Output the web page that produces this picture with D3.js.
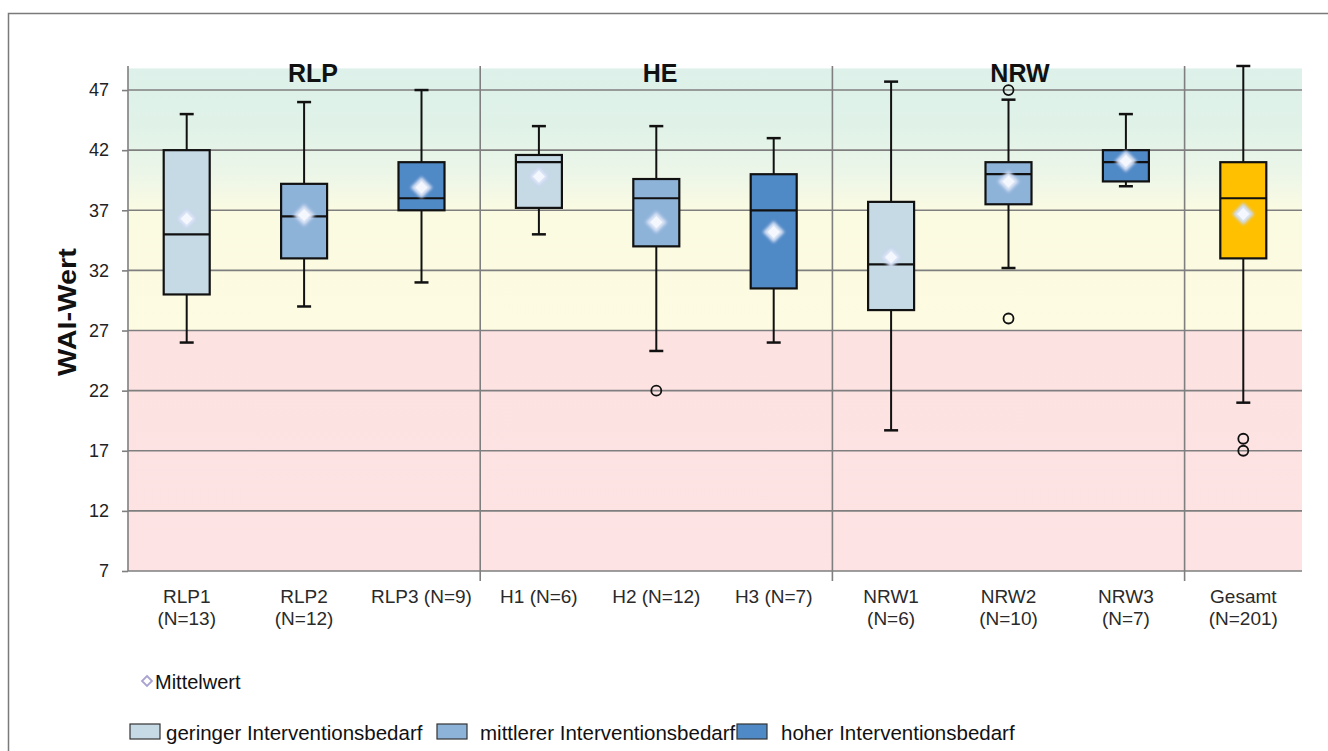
<!DOCTYPE html>
<html lang="de">
<head>
    <meta charset="UTF-8">
    <script src="https://cdn.jsdelivr.net/npm/d3@7"></script>
    <title>WAI-Wert</title>
    <style>
        body { margin: 0; background: #fff; font-family: Arial, "Liberation Sans", sans-serif; }
        svg { display: block; }
    </style>
</head>
<body>
<svg width="1328" height="751"></svg>
<script>
    // Kategorien und Kennwerte
    var categories = ["RLP1", "RLP2", "RLP3", "H1", "H2", "H3", "NRW1", "NRW2", "NRW3", "Gesamt"];
    var xLabels = [["RLP1", "(N=13)"], ["RLP2", "(N=12)"], ["RLP3 (N=9)"], ["H1 (N=6)"], ["H2 (N=12)"],
        ["H3 (N=7)"], ["NRW1", "(N=6)"], ["NRW2", "(N=10)"], ["NRW3", "(N=7)"], ["Gesamt", "(N=201)"]];
    var level = ["gering", "mittel", "hoch", "gering", "mittel", "hoch", "gering", "mittel", "hoch", "gesamt"];
    var whiskerLow = [26, 29, 31, 35, 25.3, 26, 18.7, 32.2, 39, 21];
    var q1 = [30, 33, 37, 37.2, 34, 30.5, 28.7, 37.5, 39.4, 33];
    var median = [35, 36.5, 38, 41, 38, 37, 32.5, 40, 41, 38];
    var q3 = [42, 39.2, 41, 41.6, 39.6, 40, 37.7, 41, 42, 41];
    var whiskerHigh = [45, 46, 47, 44, 44, 43, 47.7, 46.2, 45, 49];
    var means = [36.3, 36.6, 38.9, 39.8, 36, 35.2, 33.1, 39.4, 41.1, 36.7];
    var outliers = [[], [], [], [], [22], [], [], [47, 28], [], [18, 17]];
    var groups = ["RLP", "HE", "NRW"];
    var yTicks = [7, 12, 17, 22, 27, 32, 37, 42, 47];

    var colors = {gering: "#c6dae5", mittel: "#8eb3d9", hoch: "#4f89c6", gesamt: "#ffc000"};

    var svg = d3.select("svg");
    var plot = {left: 128, right: 1302, top: 66, bottom: 571};

    var x = d3.scaleBand().domain(categories).range([plot.left, plot.right]);
    var y = d3.scaleLinear().domain([7, 49]).range([plot.bottom, plot.top]);

    // Rahmen
    svg.append("rect").attr("x", 8.5).attr("y", 13.5).attr("width", 1340).attr("height", 800)
        .attr("fill", "#fff").attr("stroke", "#7a7a7a").attr("stroke-width", 1.5);

    // Hintergrund-Zonen
    var defs = svg.append("defs");
    var grad = defs.append("linearGradient").attr("id", "bg")
        .attr("gradientUnits", "userSpaceOnUse")
        .attr("x1", 0).attr("x2", 0).attr("y1", y(49)).attr("y2", y(7));
    function stop(v, c) {
        grad.append("stop").attr("offset", (y(v) - y(49)) / (y(7) - y(49))).attr("stop-color", c);
    }
    stop(49, "#ddf1ea");
    stop(44, "#e0f2e8");
    stop(40, "#ecf6e8");
    stop(37, "#fbfbe2");
    stop(27, "#fdfbe2");
    stop(27, "#fde2e2");
    stop(7, "#fde3e3");
    svg.append("rect").attr("x", plot.left).attr("y", y(48.8)).attr("width", plot.right - plot.left)
        .attr("height", y(7) - y(48.8)).attr("fill", "url(#bg)");

    // Gitterlinien
    svg.append("g").selectAll("line").data(yTicks).enter().append("line")
        .attr("x1", plot.left).attr("x2", plot.right)
        .attr("y1", function (d) { return y(d); }).attr("y2", function (d) { return y(d); })
        .attr("stroke", "#7f7f7f").attr("stroke-width", 1.6);

    // Trennlinien zwischen Laendern
    var seps = ["H1", "NRW1", "Gesamt"];
    svg.append("g").selectAll("line").data(seps).enter().append("line")
        .attr("x1", function (d) { return x(d); }).attr("x2", function (d) { return x(d); })
        .attr("y1", plot.top).attr("y2", plot.bottom + 10)
        .attr("stroke", "#7f7f7f").attr("stroke-width", 1.6);

    // Y-Achse
    var yAxis = svg.append("g").attr("transform", "translate(" + plot.left + ",0)")
        .call(d3.axisLeft(y).tickValues(yTicks).tickSize(6).tickPadding(13));
    yAxis.select(".domain").attr("stroke", "#7f7f7f").attr("stroke-width", 1.6)
        .attr("d", "M0," + plot.top + "V" + plot.bottom);
    yAxis.selectAll(".tick line").attr("stroke", "#7f7f7f").attr("stroke-width", 1.6);
    yAxis.selectAll(".tick text").attr("font-size", 18).attr("fill", "#222")
        .attr("font-family", "Arial, 'Liberation Sans', sans-serif");

    svg.append("text").attr("transform", "translate(76,312) rotate(-90)")
        .attr("text-anchor", "middle").attr("font-size", 25).attr("font-weight", "bold")
        .attr("textLength", 128).attr("lengthAdjust", "spacingAndGlyphs")
        .attr("fill", "#111").text("WAI-Wert");

    // Laender-Ueberschriften
    var groupCenter = [313, 660, 1020];
    svg.append("g").selectAll("text").data(groups).enter().append("text")
        .attr("x", function (d, i) { return groupCenter[i]; }).attr("y", 82)
        .attr("text-anchor", "middle").attr("font-size", 25).attr("font-weight", "bold")
        .attr("fill", "#111").text(function (d) { return d; });

    // X-Beschriftung
    var xl = svg.append("g").selectAll("text").data(categories).enter().append("text")
        .attr("x", function (d) { return x(d) + x.bandwidth() / 2; }).attr("y", 603)
        .attr("text-anchor", "middle").attr("font-size", 19).attr("fill", "#2a2a2a");
    xl.each(function (d, i) {
        var t = d3.select(this);
        xLabels[i].forEach(function (line, k) {
            t.append("tspan").attr("x", x(d) + x.bandwidth() / 2).attr("dy", k === 0 ? 0 : 22).text(line);
        });
    });

    // Boxplots
    var bw = 46;
    var boxes = svg.append("g").selectAll("g").data(categories).enter().append("g")
        .attr("transform", function (d) { return "translate(" + (x(d) + x.bandwidth() / 2) + ",0)"; });

    boxes.append("line").attr("x1", 0).attr("x2", 0)
        .attr("y1", function (d, i) { return y(whiskerHigh[i]); })
        .attr("y2", function (d, i) { return y(whiskerLow[i]); })
        .attr("stroke", "#111").attr("stroke-width", 2);
    boxes.append("line").attr("x1", -7).attr("x2", 7)
        .attr("y1", function (d, i) { return y(whiskerHigh[i]); })
        .attr("y2", function (d, i) { return y(whiskerHigh[i]); })
        .attr("stroke", "#111").attr("stroke-width", 2.5);
    boxes.append("line").attr("x1", -7).attr("x2", 7)
        .attr("y1", function (d, i) { return y(whiskerLow[i]); })
        .attr("y2", function (d, i) { return y(whiskerLow[i]); })
        .attr("stroke", "#111").attr("stroke-width", 2.5);
    boxes.append("rect").attr("x", -bw / 2).attr("width", bw)
        .attr("y", function (d, i) { return y(q3[i]); })
        .attr("height", function (d, i) { return y(q1[i]) - y(q3[i]); })
        .attr("fill", function (d, i) { return colors[level[i]]; })
        .attr("stroke", "#111").attr("stroke-width", 2.2);
    boxes.append("line").attr("x1", -bw / 2).attr("x2", bw / 2)
        .attr("y1", function (d, i) { return y(median[i]); })
        .attr("y2", function (d, i) { return y(median[i]); })
        .attr("stroke", "#111").attr("stroke-width", 2.2);

    // Ausreisser
    boxes.each(function (d, i) {
        d3.select(this).selectAll("circle").data(outliers[i]).enter().append("circle")
            .attr("cx", 0).attr("cy", function (v) { return y(v); }).attr("r", 5)
            .attr("fill", "none").attr("stroke", "#111").attr("stroke-width", 1.8);
    });

    // Mittelwert-Rauten
    var glow = defs.append("filter").attr("id", "glow").attr("x", "-50%").attr("y", "-50%")
        .attr("width", "200%").attr("height", "200%");
    glow.append("feGaussianBlur").attr("stdDeviation", 1.6);
    boxes.append("path")
        .attr("d", "M0,-10L10,0L0,10L-10,0Z")
        .attr("transform", function (d, i) { return "translate(0," + y(means[i]) + ")"; })
        .attr("fill", "#dfe8f8").attr("stroke", "#c4d2ee").attr("stroke-width", 1.5)
        .attr("filter", "url(#glow)");
    boxes.append("path")
        .attr("d", "M0,-6L6,0L0,6L-6,0Z")
        .attr("transform", function (d, i) { return "translate(0," + y(means[i]) + ")"; })
        .attr("fill", "#f4f8fe");

    // Legende
    var leg = svg.append("g");
    leg.append("path").attr("d", "M0,-5L5,0L0,5L-5,0Z").attr("transform", "translate(147,681)")
        .attr("fill", "#fff").attr("stroke", "#a9a3cf").attr("stroke-width", 1.8);
    leg.append("text").attr("x", 155).attr("y", 689).attr("font-size", 20).attr("fill", "#111")
        .text("Mittelwert");

    var legItems = [
        {key: "gering", label: "geringer Interventionsbedarf", x: 130, tx: 36},
        {key: "mittel", label: "mittlerer Interventionsbedarf", x: 437, tx: 43},
        {key: "hoch", label: "hoher Interventionsbedarf", x: 737, tx: 44}
    ];
    var li = leg.selectAll("g.li").data(legItems).enter().append("g").attr("class", "li")
        .attr("transform", function (d) { return "translate(" + d.x + ",724)"; });
    li.append("rect").attr("width", 30).attr("height", 15).attr("fill", function (d) { return colors[d.key]; })
        .attr("stroke", "#333").attr("stroke-width", 1.2);
    li.append("text").attr("x", function (d) { return d.tx; }).attr("y", 16)
        .attr("font-size", 20.5).attr("fill", "#111")
        .text(function (d) { return d.label; });
</script>
</body>
</html>
